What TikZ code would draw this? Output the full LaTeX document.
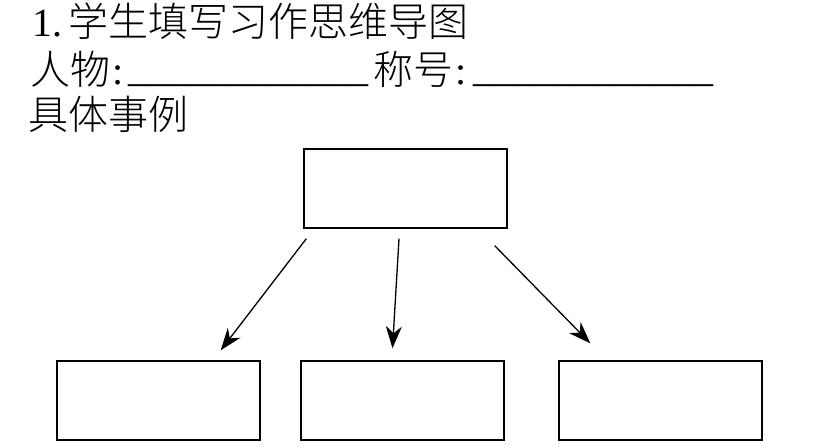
\documentclass[tikz,border=0pt]{standalone}
\usepackage{fontspec}
\setmainfont{Liberation Serif}
\newfontfamily\cjk{Noto Sans CJK SC}[UprightFont=* Light]
\usetikzlibrary{positioning, arrows.meta}

\begin{document}
\begin{tikzpicture}[x=1pt,y=-1pt,>={Stealth[length=22pt,width=16pt,inset=7pt]},
    txt/.style={anchor=base west,inner sep=0pt,font=\fontsize{40}{48}\selectfont},
    box/.style={draw,line width=1.4pt,minimum width=203pt,minimum height=79pt,inner sep=0pt},
    arr/.style={->,line width=1.3pt}]
\useasboundingbox (0,0) rectangle (838,447);

% heading lines
\node[txt] (title)    at (32,36)  {1.\,\cjk 学生填写习作思维导图};
\node[txt] (renwu)    at (30,84)  {{\cjk 人物}\kern2pt:};
\node[txt] (blank1)   at (128,81) {\_\_\_\_\_\_\_\_\_\_\_\_};
\node[txt] (chenghao) at (373,84) {{\cjk 称号}\kern2pt:};
\node[txt] (blank2)   at (473,81) {\_\_\_\_\_\_\_\_\_\_\_\_};
\node[txt] (shili)    at (28,129) {\cjk 具体事例};

% boxes
\node[box] (top)   at (405.5,188.5) {};
\node[box] (left)  at (158.5,400.5) {};
\node[box] (mid)   at (402.5,400.5) {};
\node[box] (right) at (660.5,400.5) {};

\draw[arr] ([shift={(3,10)}]top.south west) -- ([shift={(-40,-10)}]left.north east);
\draw[arr] ([shift={(-6.5,10)}]top.south) -- ([shift={(-10,-12)}]mid.north);
\draw[arr] ([shift={(-13,17)}]top.south east) -- ([shift={(32,-17)}]right.north west);
\end{tikzpicture}
\end{document}
